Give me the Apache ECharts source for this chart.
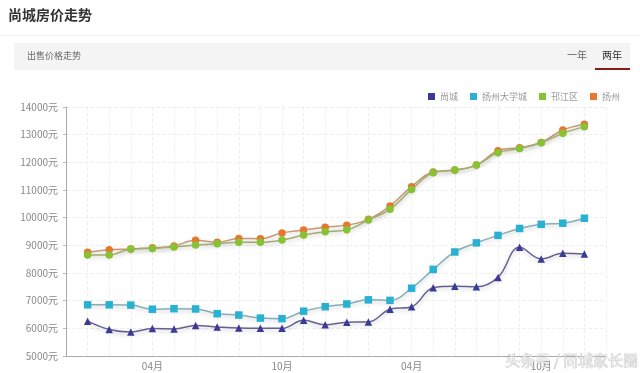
<!DOCTYPE html>
<html>
<head>
<meta charset="utf-8">
<script src="https://cdn.jsdelivr.net/npm/echarts@6/dist/echarts.min.js"></script>
<style>
html,body{margin:0;padding:0;background:#fff;}
#c{width:640px;height:373px;}
</style>
</head>
<body>
<div id="c"></div>
<script>
var months = ['01月','02月','03月','04月','05月','06月','07月','08月','09月','10月','11月','12月',
              '01月','02月','03月','04月','05月','06月','07月','08月','09月','10月','11月','12月'];
var shownMonths = ['04月','10月'];
var seriesNames = ['尚城','扬州大学城','邗江区','扬州'];
var shangcheng = [6260,5960,5870,5990,5980,6100,6050,6010,6000,6000,6290,6130,
                  6220,6230,6690,6780,7470,7520,7500,7840,8930,8510,8710,8690];
var daxuecheng = [6850,6850,6840,6690,6710,6700,6530,6480,6370,6350,6620,6780,
                  6880,7030,7010,7450,8130,8760,9090,9360,9610,9760,9800,9980];
var hanjiang = [8650,8650,8870,8890,8940,9010,9060,9110,9110,9190,9370,9490,
                9560,9920,10300,11020,11620,11720,11900,12350,12500,12710,13050,13290];
var yangzhou = [8750,8840,8870,8910,8980,9180,9110,9250,9240,9450,9550,9650,
                9730,9940,10420,11120,11650,11720,11900,12420,12530,12720,13170,13380];
var yTicks = {min:5000, max:14000, step:1000, unit:'元'};

var font = '"Noto Sans CJK SC","Noto Sans",sans-serif';
function pts(arr){ return arr.map(function(v,i){ return [i+1, v]; }); }
function mkSeries(name, arr, symbol, color, lineColor, z){
  return {
    name:name, type:'line', data:pts(arr), smooth:0.4, symbol:symbol, symbolSize:7.5,
    z:z, itemStyle:{color:color},
    lineStyle:{color:lineColor, width:1.5, shadowColor:'rgba(0,0,0,0.22)', shadowBlur:4, shadowOffsetY:2},
    emphasis:{disabled:true}
  };
}
var chart = echarts.init(document.getElementById('c'), null, {renderer:'canvas'});
chart.setOption({
  animation:false,
  textStyle:{fontFamily:font},
  grid:{left:66, right:34, top:107, bottom:17},
  legend:{
    right:15, top:87, itemWidth:7, itemHeight:7, itemGap:12,
    icon:'rect',
    data:seriesNames,
    textStyle:{fontSize:9, color:'#999', fontFamily:font}
  },
  xAxis:{
    type:'value', min:0, max:months.length+1, interval:1,
    axisLine:{show:true, lineStyle:{color:'#aaa', width:1}},
    axisTick:{show:false},
    axisLabel:{
      fontSize:10, color:'#888', margin:5, fontFamily:font,
      formatter:function(v){ var m = months[v-1]; return (m && shownMonths.indexOf(m)>=0) ? m : ''; }
    },
    splitLine:{show:true, lineStyle:{color:'#efefef', type:'dashed', width:1}}
  },
  yAxis:{
    type:'value', min:yTicks.min, max:yTicks.max, interval:yTicks.step,
    axisLine:{show:true, lineStyle:{color:'#aaa', width:1}},
    axisTick:{show:true, length:3, lineStyle:{color:'#bbb'}},
    axisLabel:{fontSize:10, color:'#888', margin:8, fontFamily:font,
      formatter:function(v){ return v + yTicks.unit; }},
    splitLine:{show:true, lineStyle:{color:'#efefef', type:'dashed', width:1}}
  },
  series:[
    mkSeries(seriesNames[0], shangcheng, 'triangle', '#3b3a96', '#66628f', 3),
    mkSeries(seriesNames[1], daxuecheng, 'rect', '#29b1d4', '#86aeb8', 3),
    mkSeries(seriesNames[3], yangzhou, 'circle', '#e8772e', '#c49a72', 3),
    mkSeries(seriesNames[2], hanjiang, 'circle', '#86c234', '#a3ad6e', 4)
  ],
  graphic:[
    {type:'text', left:8, top:8, style:{text:'尚城房价走势', font:'bold 14px ' + font, fill:'#333'}},
    {type:'rect', shape:{x:0, y:35, width:640, height:1}, style:{fill:'#eeeeee'}},
    {type:'rect', shape:{x:14, y:43, width:616, height:27}, style:{fill:'#f4f4f4'}},
    {type:'text', left:27, top:51, style:{text:'出售价格走势', font:'9px ' + font, fill:'#666'}},
    {type:'text', left:567, top:50, style:{text:'一年', font:'10px ' + font, fill:'#666'}},
    {type:'text', left:602, top:50, style:{text:'两年', font:'10px ' + font, fill:'#333'}},
    {type:'rect', shape:{x:595, y:68, width:35, height:2}, style:{fill:'#8b1c1c'}},
    {type:'text', left:505, top:352, z:100, style:{text:'头条号 / 同城家长圈', font:'15px ' + font, fill:'#eaeaea', stroke:'#b8b8b8', lineWidth:0.6}}
  ]
});
</script>
</body>
</html>
